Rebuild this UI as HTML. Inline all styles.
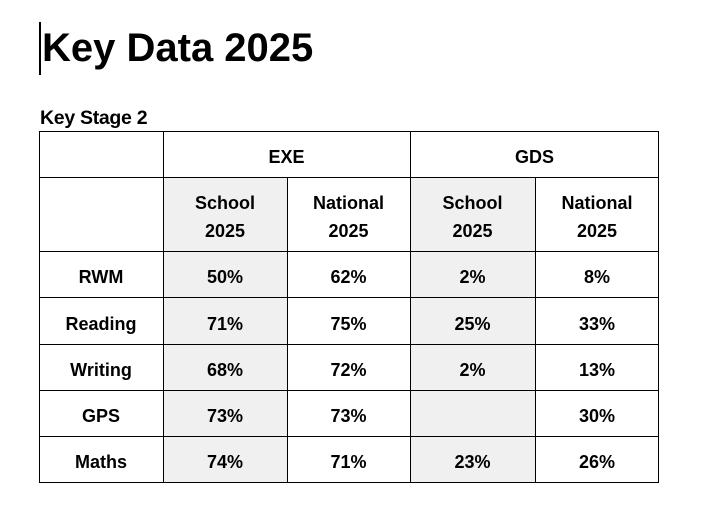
<!DOCTYPE html>
<html><head><meta charset="utf-8"><style>
body{margin:0;width:712px;height:518px;background:#fff;position:relative;font-family:"Liberation Sans",Arial,sans-serif;color:#000;overflow:hidden}
.t{position:absolute;font-weight:bold;white-space:nowrap}
.c{position:absolute;display:flex;align-items:center;justify-content:center;text-align:center;font-weight:bold;font-size:18px;line-height:28px;box-sizing:border-box;padding-top:6px}
.g{background:#f0f0f0}
.h{position:absolute;background:#000;height:1px}
.v{position:absolute;background:#000;width:1px}
</style></head><body>
<div style="position:absolute;left:39px;top:22px;width:2px;height:53px;background:#000"></div>
<div class="t" style="left:42px;top:26px;font-size:40px;letter-spacing:0px">Key Data 2025</div>
<div class="t" style="left:40px;top:107px;font-size:19.5px;letter-spacing:-0.3px">Key Stage 2</div>

<div class="g" style="position:absolute;left:163px;top:177px;width:124px;height:305px"></div>
<div class="g" style="position:absolute;left:410px;top:177px;width:125px;height:305px"></div>

<div class="h" style="left:39px;top:131px;width:620px"></div>
<div class="h" style="left:39px;top:177px;width:620px"></div>
<div class="h" style="left:39px;top:251px;width:620px"></div>
<div class="h" style="left:39px;top:297px;width:620px"></div>
<div class="h" style="left:39px;top:344px;width:620px"></div>
<div class="h" style="left:39px;top:390px;width:620px"></div>
<div class="h" style="left:39px;top:436px;width:620px"></div>
<div class="h" style="left:39px;top:482px;width:620px"></div>
<div class="v" style="left:39px;top:131px;height:352px"></div>
<div class="v" style="left:163px;top:131px;height:352px"></div>
<div class="v" style="left:287px;top:177px;height:306px"></div>
<div class="v" style="left:410px;top:131px;height:352px"></div>
<div class="v" style="left:535px;top:177px;height:306px"></div>
<div class="v" style="left:658px;top:131px;height:352px"></div>

<div class="c" style="left:163px;top:131px;width:247px;height:46px">EXE</div>
<div class="c" style="left:410px;top:131px;width:249px;height:46px">GDS</div>
<div class="c" style="left:163px;top:177px;width:124px;height:74px">School<br>2025</div>
<div class="c" style="left:287px;top:177px;width:123px;height:74px">National<br>2025</div>
<div class="c" style="left:410px;top:177px;width:125px;height:74px">School<br>2025</div>
<div class="c" style="left:535px;top:177px;width:124px;height:74px">National<br>2025</div>

<div class="c" style="left:39px;top:251px;width:124px;height:46px">RWM</div>
<div class="c" style="left:163px;top:251px;width:124px;height:46px">50%</div>
<div class="c" style="left:287px;top:251px;width:123px;height:46px">62%</div>
<div class="c" style="left:410px;top:251px;width:125px;height:46px">2%</div>
<div class="c" style="left:535px;top:251px;width:124px;height:46px">8%</div>

<div class="c" style="left:39px;top:297px;width:124px;height:47px">Reading</div>
<div class="c" style="left:163px;top:297px;width:124px;height:47px">71%</div>
<div class="c" style="left:287px;top:297px;width:123px;height:47px">75%</div>
<div class="c" style="left:410px;top:297px;width:125px;height:47px">25%</div>
<div class="c" style="left:535px;top:297px;width:124px;height:47px">33%</div>

<div class="c" style="left:39px;top:344px;width:124px;height:46px">Writing</div>
<div class="c" style="left:163px;top:344px;width:124px;height:46px">68%</div>
<div class="c" style="left:287px;top:344px;width:123px;height:46px">72%</div>
<div class="c" style="left:410px;top:344px;width:125px;height:46px">2%</div>
<div class="c" style="left:535px;top:344px;width:124px;height:46px">13%</div>

<div class="c" style="left:39px;top:390px;width:124px;height:46px">GPS</div>
<div class="c" style="left:163px;top:390px;width:124px;height:46px">73%</div>
<div class="c" style="left:287px;top:390px;width:123px;height:46px">73%</div>
<div class="c" style="left:535px;top:390px;width:124px;height:46px">30%</div>

<div class="c" style="left:39px;top:436px;width:124px;height:46px">Maths</div>
<div class="c" style="left:163px;top:436px;width:124px;height:46px">74%</div>
<div class="c" style="left:287px;top:436px;width:123px;height:46px">71%</div>
<div class="c" style="left:410px;top:436px;width:125px;height:46px">23%</div>
<div class="c" style="left:535px;top:436px;width:124px;height:46px">26%</div>
</body></html>
